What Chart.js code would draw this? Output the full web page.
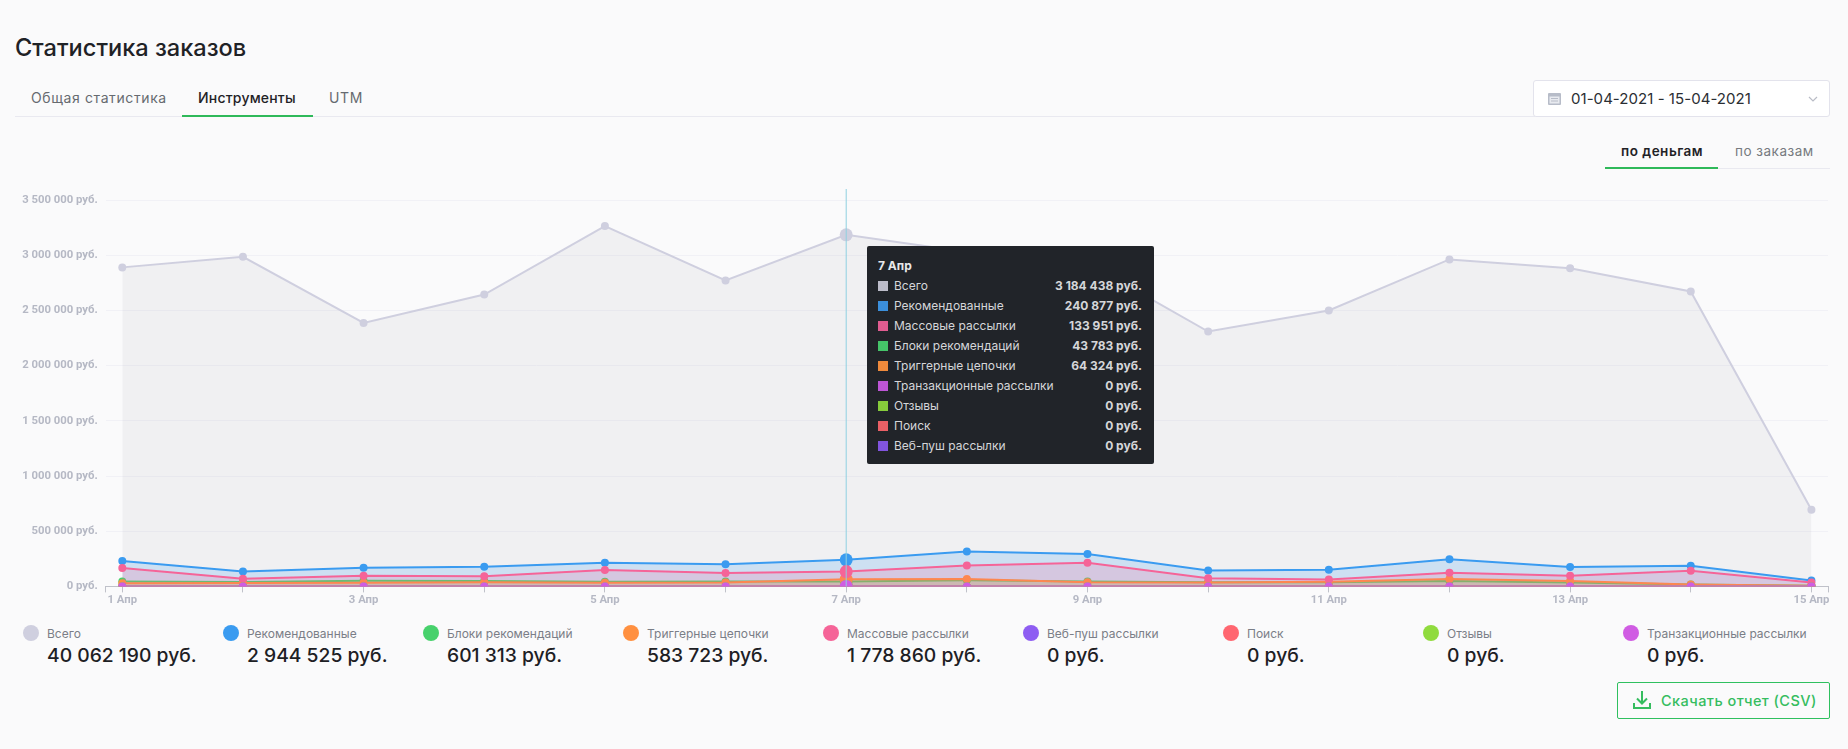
<!DOCTYPE html>
<html lang="ru">
<head>
<meta charset="utf-8">
<title>Статистика заказов</title>
<script src="https://cdn.jsdelivr.net/npm/chart.js@4"></script>
<style>
  html, body { margin: 0; padding: 0; background: #fafafb; }
  body { width: 1848px; height: 749px; position: relative; overflow: hidden; font-family: Inter, sans-serif; color: #1f2226; }
  .abs { position: absolute; white-space: nowrap; }
  #title { left: 15px; top: 34px; font-size: 23.6px; line-height: 28px; font-weight: 500; }
  .tab { top: 89px; font-size: 14px; line-height: 18px; color: #666a70; letter-spacing: .6px; }
  .tab.on { color: #1f2226; font-weight: 500; letter-spacing: .2px; }
  #tabLine { left: 15px; top: 116px; width: 1520px; height: 1px; background: #e9e9f0; }
  #tabGreen { left: 182px; top: 115px; width: 131px; height: 2px; background: #2fb95a; }
  #dateBox { left: 1533px; top: 80px; width: 295px; height: 35px; background: #fff; border: 1px solid #e3e3ec; border-radius: 3px; }
  #dateText { left: 1571px; top: 90px; font-size: 15px; line-height: 18px; color: #2b2e33; letter-spacing: .05px; }
  .mode { top: 142px; font-size: 13.5px; line-height: 18px; color: #777b80; letter-spacing: .5px; }
  .mode.on { color: #1f2226; font-weight: 600; }
  #modeGrey { left: 1718px; top: 168px; width: 112px; height: 1px; background: #e9e9f0; }
  #modeGreen { left: 1605px; top: 167px; width: 113px; height: 2px; background: #2fb95a; }
  #chartBox { left: 0; top: 180px; width: 1848px; height: 430px; }
  .dot { width: 16px; height: 16px; border-radius: 50%; top: 625px; }
  .legName { top: 626px; font-size: 12px; line-height: 16px; color: #7a7e87; }
  .legVal { top: 643px; font-size: 19.3px; line-height: 24px; font-weight: 500; color: #1d2024; }
  #csv { left: 1617px; top: 682px; width: 211px; height: 35px; border: 1.5px solid #2fc05f; border-radius: 2px; }
  #csvText { left: 1661px; top: 692px; font-size: 14.5px; line-height: 18px; font-weight: 500; letter-spacing: .44px; color: #35bd5f; }
  #tip { left: 867px; top: 246px; width: 287px; height: 218px; background: #212429; border-radius: 2px; color: #d5d6d9; font-size: 12px; }
  #tip .t { position: absolute; left: 11px; top: 11px; line-height: 18px; font-weight: 700; color: #e8e8ea; }
  #tip .r { position: absolute; left: 0; width: 287px; height: 20px; line-height: 20px; }
  #tip .s { position: absolute; left: 11px; top: 5px; width: 10px; height: 10px; }
  #tip .n { position: absolute; left: 27px; }
  #tip .v { position: absolute; right: 12px; font-weight: 700; }
</style>
</head>
<body>
<div class="abs" id="title">Статистика заказов</div>
<div class="abs tab" style="left:31px">Общая статистика</div>
<div class="abs tab on" style="left:198px">Инструменты</div>
<div class="abs tab" style="left:329px">UTM</div>
<div class="abs" id="tabLine"></div>
<div class="abs" id="tabGreen"></div>

<div class="abs" id="dateBox"></div>
<svg class="abs" style="left:1548px;top:92px" width="13" height="13" viewBox="0 0 13 13">
  <rect x="0" y="1" width="13" height="12" rx="1" fill="#b7bcc8"/>
  <rect x="1.5" y="4.5" width="10" height="7" fill="#e8eaef"/>
  <rect x="3" y="6" width="7" height="1" fill="#b7bcc8"/><rect x="3" y="8.5" width="7" height="1" fill="#b7bcc8"/>
</svg>
<div class="abs" id="dateText">01-04-2021 - 15-04-2021</div>
<svg class="abs" style="left:1808px;top:96px" width="10" height="6" viewBox="0 0 10 6">
  <path d="M1 1l4 4 4-4" fill="none" stroke="#b9bcc6" stroke-width="1.2"/>
</svg>

<div class="abs mode on" style="left:1621px">по деньгам</div>
<div class="abs mode" style="left:1735px">по заказам</div>
<div class="abs" id="modeGrey"></div>
<div class="abs" id="modeGreen"></div>

<div class="abs" id="chartBox"><canvas id="ordersChart"></canvas></div>
<div id="legend"></div>
<div class="abs" id="tip"></div>

<div class="abs" id="csv"></div>
<svg class="abs" style="left:1632px;top:690px" width="20" height="20" viewBox="0 0 20 20">
  <path d="M10 1v12M5 8.5l5 5 5-5M2 13v5h16v-5" fill="none" stroke="#35bd5f" stroke-width="2"/>
</svg>
<div class="abs" id="csvText">Скачать отчет (CSV)</div>

<script>
const days = ['1 Апр','2 Апр','3 Апр','4 Апр','5 Апр','6 Апр','7 Апр','8 Апр','9 Апр','10 Апр','11 Апр','12 Апр','13 Апр','14 Апр','15 Апр'];
const yTicks = [0, 500000, 1000000, 1500000, 2000000, 2500000, 3000000, 3500000];

const total = [2890000,2986000,2387000,2644000,3264000,2772000,3184438,3029000,2929000,2309000,2500000,2962000,2883000,2672000,695000];
const recommended = [230000,136000,169000,178000,215000,200000,240877,317000,293000,145000,151000,245000,175000,187000,54000];
const blocks = [45000,39000,51000,50000,43000,45000,43783,55000,45000,38000,37000,50000,36000,18000,6000];
const triggers = [28000,30000,33000,38000,32000,36000,64324,66000,38000,36000,42000,68000,48000,17000,7000];
const mass = [166000,70000,97000,91000,148000,121000,133951,190000,215000,73000,63000,124000,97000,142000,36000];
const webpush = [0,0,0,0,0,0,0,0,0,0,0,0,0,0,0];
const search = [0,0,0,0,0,0,0,0,0,0,0,0,0,0,0];
const reviews = [0,0,0,0,0,0,0,0,0,0,0,0,0,0,0];
const transactional = [0,0,0,0,0,0,0,0,0,0,0,0,0,0,0];

const seriesNames = ['Всего','Рекомендованные','Блоки рекомендаций','Триггерные цепочки','Массовые рассылки','Веб-пуш рассылки','Поиск','Отзывы','Транзакционные рассылки'];
const seriesValues = [total, recommended, blocks, triggers, mass, webpush, search, reviews, transactional];
const seriesColors = ['#cfcfdf','#3a9bf0','#47d16c','#ff9040','#f56498','#8e5df2','#ff6670','#90db3e','#d05ce3'];
const fillColors = ['rgba(200,200,208,.2)','rgba(58,155,240,.2)','rgba(71,209,108,.2)','rgba(255,144,64,.2)','rgba(245,100,152,.2)','rgba(142,93,242,.2)','rgba(255,102,112,.2)','rgba(144,219,62,.2)','rgba(208,92,227,.2)'];
const totals = [40062190, 2944525, 601313, 583723, 1778860, 0, 0, 0, 0];

const tipOrder = [0, 1, 4, 2, 3, 8, 7, 6, 5];
const tipColors = ['#bcbcc9','#3b8fdc','#45c469','#ee8a3c','#e05c90','#8154de','#ea6066','#86cb3b','#bd55d5'];
const activeDay = 6;

function money(v) {
  return String(v).replace(/\B(?=(\d{3})+(?!\d))/g, ' ') + ' руб.';
}

// легенда под графиком
const legend = document.getElementById('legend');
seriesNames.forEach((name, i) => {
  const left = 23 + i * 200;
  legend.innerHTML +=
    `<div class="abs dot" style="left:${left}px;background:${seriesColors[i]}"></div>` +
    `<div class="abs legName" style="left:${left + 24}px">${name}</div>` +
    `<div class="abs legVal" style="left:${left + 24}px">${money(totals[i])}</div>`;
});

function renderTip(context) {
  const items = context.tooltip.dataPoints;
  if (!items || !items.length) return;
  const idx = items[0].dataIndex;
  let html = `<div class="t">${days[idx]}</div>`;
  tipOrder.forEach((s, row) => {
    html += `<div class="r" style="top:${30 + row * 20}px"><span class="s" style="background:${tipColors[s]}"></span>` +
      `<span class="n">${seriesNames[s]}</span><span class="v">${money(seriesValues[s][idx])}</span></div>`;
  });
  document.getElementById('tip').innerHTML = html;
}

const crosshair = {
  id: 'crosshair',
  afterDatasetsDraw(chart) {
    const { ctx, chartArea, scales } = chart;
    const x = scales.x.getPixelForValue(activeDay);
    ctx.save();
    ctx.strokeStyle = '#8fd0e0';
    ctx.lineWidth = 1;
    ctx.beginPath();
    ctx.moveTo(x, chartArea.top);
    ctx.lineTo(x, chartArea.bottom);
    ctx.stroke();
    ctx.restore();
  }
};

const datasets = seriesNames.map((name, i) => ({
  label: name,
  data: seriesValues[i].map((v, d) => ({ x: d, y: v })),
  borderColor: seriesColors[i],
  backgroundColor: fillColors[i],
  pointBackgroundColor: seriesColors[i],
  pointBorderWidth: 0,
  pointHoverBorderWidth: 0,
  pointHoverBackgroundColor: seriesColors[i],
  borderWidth: 2,
  pointRadius: 4,
  pointHoverRadius: 6.5,
  fill: 'origin',
  tension: 0,
  order: seriesNames.length - i
}));

const axisFont = { family: 'Roboto, sans-serif', size: 11.3, weight: '700' };

const chart = new Chart(document.getElementById('ordersChart'), {
  type: 'line',
  data: { datasets: datasets },
  plugins: [crosshair],
  options: {
    responsive: true,
    maintainAspectRatio: false,
    animation: false,
    events: [],
    layout: { padding: { top: 9, right: 20, left: 0, bottom: 0 } },
    interaction: { mode: 'index', intersect: false },
    scales: {
      x: {
        type: 'linear',
        min: -0.1375,
        max: 14.1375,
        afterBuildTicks(scale) {
          const list = [{ value: scale.min }];
          days.forEach((d, i) => list.push({ value: i }));
          list.push({ value: scale.max });
          scale.ticks = list;
        },
        afterFit(scale) { scale.height = 23.6; },
        grid: { drawOnChartArea: false, tickLength: 6, tickColor: '#bfc1c9' },
        border: { color: '#bfc1c9' },
        ticks: {
          autoSkip: false,
          maxRotation: 0,
          padding: 1,
          color: '#b5b8c4',
          font: axisFont,
          callback(v) { return Number.isInteger(v) && v % 2 === 0 ? days[v] : ''; }
        }
      },
      y: {
        min: 0,
        max: 3600000,
        afterBuildTicks(scale) { scale.ticks = yTicks.map(v => ({ value: v })); },
        afterFit(scale) {
          scale.width = 105.7;
          // tick padding иначе сдвигает верх области графика
          scale.paddingTop = 0;
          scale.paddingBottom = 0;
        },
        grid: { color: '#f1f1f6', drawTicks: false },
        border: { display: false },
        ticks: {
          padding: 8,
          color: '#b5b8c4',
          font: axisFont,
          callback(v) { return money(v); }
        }
      }
    },
    plugins: {
      legend: { display: false },
      title: { display: false },
      tooltip: { enabled: false, external: renderTip }
    }
  }
});

const activeItems = seriesNames.map((n, i) => ({ datasetIndex: i, index: activeDay }));
chart.setActiveElements(activeItems);
chart.tooltip.setActiveElements(activeItems, { x: 0, y: 0 });
chart.update();
</script>
</body>
</html>
